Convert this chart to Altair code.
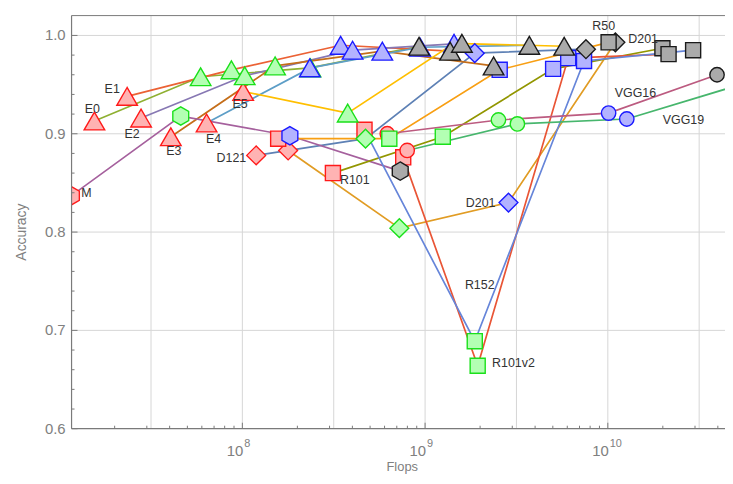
import altair as alt
import pandas as pd

# ---------------- data ----------------
CONDITIONS = ["red", "green", "blue", "gray"]          # marker colour per point, in this order for every model
MODELS = ["D121", "D201", "E0", "E1", "E2", "E3", "E4", "E5",
          "M", "R101", "R101v2", "R152", "R50", "VGG16", "VGG19"]
MODEL_FAMILY = ["diamond", "diamond", "triangle", "triangle", "triangle", "triangle",
                "triangle", "triangle", "hexagon", "square", "square", "square",
                "square", "circle", "circle"]
LINE_COLORS = ["#5E81B5", "#E19C24", "#8FB032", "#EB6235", "#8778B3", "#C56E1A",
               "#5D9EC7", "#FFBF00", "#A5609D", "#929600", "#E95536", "#6685D9",
               "#F89F13", "#BC5B80", "#47B66D"]

D121_FLOPS = [1.19e8, 4.72e8, 1.87e9, 7.59e9]
D121_ACC = [0.878, 0.895, 0.982, 0.986]
D201_FLOPS = [1.78e8, 7.23e8, 2.86e9, 1.10e10]
D201_ACC = [0.883, 0.804, 0.830, 0.993]
E0_FLOPS = [1.55e7, 5.91e7, 2.34e8, 9.27e8]
E0_ACC = [0.913, 0.958, 0.967, 0.989]
E1_FLOPS = [2.34e7, 8.71e7, 3.45e8, 1.37e9]
E1_ACC = [0.938, 0.965, 0.990, 0.984]
E2_FLOPS = [2.79e7, 1.03e8, 4.01e8, 1.59e9]
E2_ACC = [0.916, 0.959, 0.985, 0.992]
E3_FLOPS = [4.06e7, 1.51e8, 5.83e8, 2.37e9]
E3_ACC = [0.897, 0.969, 0.984, 0.969]
E4_FLOPS = [6.37e7, 2.36e8, 9.40e8, 3.72e9]
E4_ACC = [0.911, 0.967, 0.988, 0.990]
E5_FLOPS = [1.01e8, 3.77e8, 1.44e9, 5.77e9]
E5_ACC = [0.943, 0.921, 0.992, 0.989]
M_FLOPS = [1.16e7, 4.60e7, 1.82e8, 7.31e8]
M_ACC = [0.837, 0.918, 0.898, 0.862]
R101_FLOPS = [3.13e8, 1.25e9, 5.02e9, 1.99e10]
R101_ACC = [0.860, 0.897, 0.966, 0.987]
R101V2_FLOPS = [7.59e8, 1.94e9, 6.07e9, 2.15e10]
R101V2_ACC = [0.876, 0.664, 0.977, 0.981]
R152_FLOPS = [4.66e8, 1.87e9, 7.41e9, 2.93e10]
R152_ACC = [0.904, 0.689, 0.974, 0.985]
R50_FLOPS = [1.57e8, 6.37e8, 2.56e9, 1.01e10]
R50_ACC = [0.895, 0.895, 0.965, 0.993]
VGG16_FLOPS = [6.21e8, 2.52e9, 1.01e10, 3.96e10]
VGG16_ACC = [0.900, 0.914, 0.921, 0.960]
VGG19_FLOPS = [7.98e8, 3.20e9, 1.27e10, 5.10e10]
VGG19_ACC = [0.883, 0.910, 0.915, 0.949]

SERIES = {
    "D121": (D121_FLOPS, D121_ACC), "D201": (D201_FLOPS, D201_ACC),
    "E0": (E0_FLOPS, E0_ACC), "E1": (E1_FLOPS, E1_ACC), "E2": (E2_FLOPS, E2_ACC),
    "E3": (E3_FLOPS, E3_ACC), "E4": (E4_FLOPS, E4_ACC), "E5": (E5_FLOPS, E5_ACC),
    "M": (M_FLOPS, M_ACC), "R101": (R101_FLOPS, R101_ACC),
    "R101v2": (R101V2_FLOPS, R101V2_ACC), "R152": (R152_FLOPS, R152_ACC),
    "R50": (R50_FLOPS, R50_ACC), "VGG16": (VGG16_FLOPS, VGG16_ACC),
    "VGG19": (VGG19_FLOPS, VGG19_ACC),
}

# labels: text, model it belongs to, condition index of the marker it sits by
LABEL_TEXT = ["E0", "E1", "E2", "E3", "E4", "E5", "M", "D121", "R101",
              "R50", "D201", "VGG16", "VGG19", "D201", "R152", "R101v2"]
LABEL_MODEL = ["E0", "E1", "E2", "E3", "E4", "E5", "M", "D121", "R101",
               "R50", "D201", "VGG16", "VGG19", "D201", "R152", "R101v2"]
LABEL_COND = [0, 0, 0, 0, 0, 0, 0, 0, 0, 3, 3, 2, 2, 2, 1, 1]
# label offsets in pixels (style)
LABEL_DX = [-2, -15, -9, 3, 7, -3, 15, -25, 22, -5, 28, 27, 57, -28, 5, 36]
LABEL_DY = [-12, -7, 16, 14, 16, 13, -3, 3, 7, -16, -3, -20, 1, 0, -57, -3]

Y_TICKS = [0.6, 0.7, 0.8, 0.9, 1.0]
Y_TICK_LABELS = ["0.6", "0.7", "0.8", "0.9", "1.0"]
Y_MINOR = [0.62, 0.64, 0.66, 0.68, 0.72, 0.74, 0.76, 0.78, 0.82, 0.84, 0.86, 0.88,
           0.92, 0.94, 0.96, 0.98]
Y_GRID = [0.7, 0.8, 0.9, 1.0]
X_TICKS = [1e8, 1e9, 1e10]
X_TICK_BASE = ["10", "10", "10"]
X_TICK_EXP = ["8", "9", "10"]
X_GRID = [10 ** 7.5, 1e8, 10 ** 8.5, 1e9, 10 ** 9.5, 1e10, 10 ** 10.5]
X_MINOR = [2e7, 3e7, 4e7, 5e7, 6e7, 7e7, 8e7, 9e7,
           2e8, 3e8, 4e8, 5e8, 6e8, 7e8, 8e8, 9e8,
           2e9, 3e9, 4e9, 5e9, 6e9, 7e9, 8e9, 9e9,
           2e10, 3e10, 4e10]

# ---------------- styling ----------------
W, H = 658, 416
XMIN, XMAX = 10 ** 7.0652, 10 ** 10.6413
YMIN, YMAX = 0.6, 1.0202
FONT = "Liberation Sans"
AXC = "#7a7a7a"
LBL = "#808080"
GRIDC = "#d6d6d6"

FAMILIES = ["triangle", "square", "circle", "diamond", "hexagon"]
HEX = "M0,-1L0.866,-0.5L0.866,0.5L0,1L-0.866,0.5L-0.866,-0.5Z"
SHAPES = ["triangle-up", "square", "circle", "diamond", HEX]
MARKER_SIZE = {"triangle": 430, "square": 230, "circle": 210, "diamond": 360, "hexagon": 340}
FILLS = ["#FFB3B3", "#B3FFB3", "#B3B3FF", "#AAAAAA"]
STROKES = ["#FF1A1A", "#1AE01A", "#1A1AFF", "#1A1A1A"]

# ---------------- tables ----------------
rows = []
for mi, m in enumerate(MODELS):
    fl, ac = SERIES[m]
    fam = MODEL_FAMILY[mi]
    for ci, (f, a) in enumerate(zip(fl, ac)):
        rows.append({"model": m, "family": fam, "cond": CONDITIONS[ci],
                     "flops": f, "acc": a, "seq": ci, "z": ci * 100 + mi,
                     "msize": MARKER_SIZE[fam]})
df = pd.DataFrame(rows)

xs = alt.Scale(type="log", domain=[XMIN, XMAX], nice=False)
ys = alt.Scale(domain=[YMIN, YMAX], nice=False, zero=False)


def X(f):
    return alt.X(f, type="quantitative", scale=xs, axis=None)


def Y(f):
    return alt.Y(f, type="quantitative", scale=ys, axis=None)


one = pd.DataFrame({"a": [0]})

grid_v = alt.Chart(pd.DataFrame({"v": X_GRID})).mark_rule(color=GRIDC, strokeWidth=1).encode(x=X("v"))
grid_h = alt.Chart(pd.DataFrame({"v": Y_GRID})).mark_rule(color=GRIDC, strokeWidth=1).encode(y=Y("v"))

lines = alt.Chart(df).mark_line(strokeWidth=1.7, clip=True).encode(
    x=X("flops"), y=Y("acc"),
    color=alt.Color("model:N", scale=alt.Scale(domain=MODELS, range=LINE_COLORS), legend=None),
    detail="model:N",
    order=alt.Order("seq:Q"),
)

points = alt.Chart(df).mark_point(filled=True, opacity=1, strokeWidth=1.4, clip=True).encode(
    x=X("flops"), y=Y("acc"),
    shape=alt.Shape("family:N", scale=alt.Scale(domain=FAMILIES, range=SHAPES), legend=None),
    size=alt.Size("msize:Q", scale=None, legend=None),
    fill=alt.Fill("cond:N", scale=alt.Scale(domain=CONDITIONS, range=FILLS), legend=None),
    stroke=alt.Stroke("cond:N", scale=alt.Scale(domain=CONDITIONS, range=STROKES), legend=None),
    order=alt.Order("z:Q"),
)

label_layers = []
for t, m, c, dx, dy in zip(LABEL_TEXT, LABEL_MODEL, LABEL_COND, LABEL_DX, LABEL_DY):
    fl, ac = SERIES[m]
    d = pd.DataFrame({"flops": [fl[c]], "acc": [ac[c]], "t": [t]})
    label_layers.append(
        alt.Chart(d).mark_text(font=FONT, fontSize=12.5, color="#333333", align="center",
                               baseline="middle", dx=dx, dy=dy).encode(
            x=X("flops"), y=Y("acc"), text="t:N")
    )

frame_left = alt.Chart(one).mark_rule(color=AXC, strokeWidth=1.2).encode(
    x=alt.value(0), y=alt.value(0), y2=alt.value(H))
frame_bottom = alt.Chart(one).mark_rule(color=AXC, strokeWidth=1.2).encode(
    x=alt.value(0), x2=alt.value(W), y=alt.value(H))
frame_top = alt.Chart(one).mark_rule(color=AXC, strokeWidth=1).encode(
    x=alt.value(0), x2=alt.value(W), y=alt.value(0))

y_major = alt.Chart(pd.DataFrame({"v": Y_TICKS})).mark_rule(color=AXC).encode(
    y=Y("v"), x=alt.value(0), x2=alt.value(6))
y_minor = alt.Chart(pd.DataFrame({"v": Y_MINOR})).mark_rule(color=AXC).encode(
    y=Y("v"), x=alt.value(0), x2=alt.value(3))
x_major = alt.Chart(pd.DataFrame({"v": X_TICKS})).mark_rule(color=AXC).encode(
    x=X("v"), y=alt.value(H), y2=alt.value(H - 6))
x_minor = alt.Chart(pd.DataFrame({"v": X_MINOR})).mark_rule(color=AXC).encode(
    x=X("v"), y=alt.value(H), y2=alt.value(H - 3))

y_labels = alt.Chart(pd.DataFrame({"v": Y_TICKS, "t": Y_TICK_LABELS})).mark_text(
    font=FONT, fontSize=15, color=LBL, align="right", baseline="middle").encode(
    y=Y("v"), x=alt.value(-6), text="t:N")

xdf = pd.DataFrame({"v": X_TICKS, "b": X_TICK_BASE, "e": X_TICK_EXP})
x_base = alt.Chart(xdf).mark_text(font=FONT, fontSize=15, color=LBL, align="right",
                                  baseline="middle", dx=1).encode(
    x=X("v"), y=alt.value(H + 22), text="b:N")
x_exp = alt.Chart(xdf).mark_text(font=FONT, fontSize=11, color=LBL, align="left",
                                 baseline="middle", dx=2).encode(
    x=X("v"), y=alt.value(H + 15), text="e:N")

y_title = alt.Chart(one).mark_text(font=FONT, fontSize=14, color=LBL, angle=270,
                                   align="center", baseline="middle").encode(
    x=alt.value(-50), y=alt.value(218), text=alt.value("Accuracy"))
x_title = alt.Chart(one).mark_text(font=FONT, fontSize=13, color=LBL,
                                   align="center", baseline="middle").encode(
    x=alt.value(333), y=alt.value(H + 39), text=alt.value("Flops"))

chart = alt.layer(
    grid_v, grid_h, lines, points, *label_layers,
    frame_left, frame_bottom, frame_top, y_major, y_minor, x_major, x_minor,
    y_labels, x_base, x_exp, y_title, x_title,
).properties(
    width=W, height=H,
    autosize=alt.AutoSizeParams(type="none"),
    padding={"left": 64, "top": 6, "right": 0, "bottom": 46},
    background="white",
).configure_view(stroke=None)

chart.save("out.html", embed_options={"renderer": "svg", "actions": False})
